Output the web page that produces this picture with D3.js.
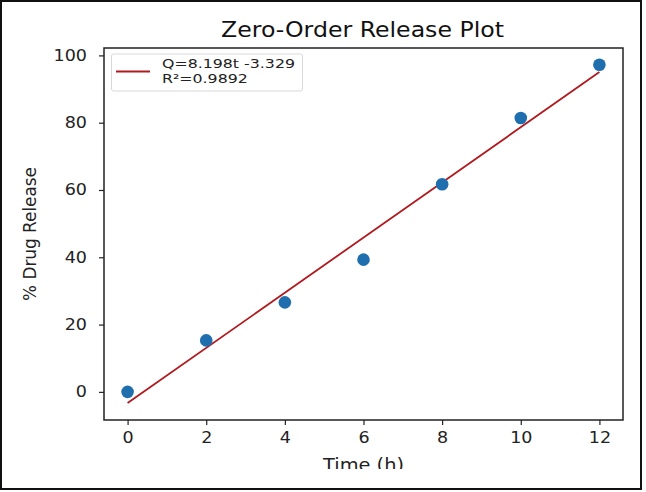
<!DOCTYPE html>
<html>
<head>
<meta charset="utf-8">
<script src="https://cdn.jsdelivr.net/npm/d3@7"></script>
<style>
  html, body { margin: 0; padding: 0; background: #fff; }
  svg { display: block; font-family: "DejaVu Sans", sans-serif; }
</style>
</head>
<body>
<div id="chart"></div>
<script>
// ---------- Data ----------
const timeH = [0, 2, 4, 6, 8, 10, 12];
const drugRelease = [0, 15.3, 26.6, 39.3, 61.7, 81.4, 97.2];

// fitted line end points (from legend: Q = 8.198t - 3.329)
const fitT = [0, 12];
const fitQ = [-3.329, 95.047];

const xTicks = [0, 2, 4, 6, 8, 10, 12];
const yTicks = [0, 20, 40, 60, 80, 100];
const legendLines = ["Q=8.198t -3.329", "R\u00b2=0.9892"];

// ---------- Layout ----------
const W = 646, H = 492;
const M = { top: 48, right: 23, bottom: 72, left: 104 };
const LINE_RED = "#b01a1e";

// the source picture is a bit wider than tall, so text looks stretched
function stretch(sel, sx) {
  sel.each(function () {
    const L = this.getComputedTextLength();
    d3.select(this).attr("textLength", L * sx).attr("lengthAdjust", "spacingAndGlyphs");
  });
}
function fitWidth(sel, w) {
  sel.attr("textLength", w).attr("lengthAdjust", "spacingAndGlyphs");
}

const svg = d3.select("#chart").append("svg")
  .attr("width", W).attr("height", H);

// outer frame
svg.append("rect")
  .attr("x", 1).attr("y", 1)
  .attr("width", 640).attr("height", 488)
  .attr("fill", "#fff")
  .attr("stroke", "#111")
  .attr("stroke-width", 2);

const x = d3.scaleLinear().domain([-0.6, 12.6]).range([M.left, W - M.right]);
const y = d3.scaleLinear().domain([-8.36, 102.2]).range([H - M.bottom, M.top]);

// the source image is cut off just under the x label
svg.append("clipPath").attr("id", "cut")
  .append("rect").attr("x", 0).attr("y", 0).attr("width", W).attr("height", 469);

const g = svg.append("g").attr("clip-path", "url(#cut)");

// axes
const xAxis = g.append("g")
  .attr("transform", `translate(0,${H - M.bottom})`)
  .call(d3.axisBottom(x).tickValues(xTicks).tickSize(5).tickPadding(7).tickFormat(d3.format("d")));

const yAxis = g.append("g")
  .attr("transform", `translate(${M.left},0)`)
  .call(d3.axisLeft(y).tickValues(yTicks).tickSize(5).tickPadding(12).tickFormat(d3.format("d")));

[xAxis, yAxis].forEach(a => {
  a.select(".domain").remove();
  a.selectAll("line").attr("stroke", "#222").attr("stroke-width", 1.2);
  a.selectAll("text").attr("fill", "#222").style("font-size", "15.5px")
    .style("font-family", "'DejaVu Sans', sans-serif");
  stretch(a.selectAll("text"), 1.13);
});

// plot box
g.append("rect")
  .attr("x", M.left).attr("y", M.top)
  .attr("width", W - M.right - M.left).attr("height", H - M.bottom - M.top)
  .attr("fill", "none").attr("stroke", "#222").attr("stroke-width", 1.5);

// fitted line
const line = d3.line().x(d => x(d[0])).y(d => y(d[1]));
g.append("path")
  .datum(fitT.map((t, i) => [t, fitQ[i]]))
  .attr("d", line)
  .attr("fill", "none")
  .attr("stroke", LINE_RED)
  .attr("stroke-width", 1.8);

// scatter points
g.append("g").selectAll("circle")
  .data(timeH.map((t, i) => ({ t, q: drugRelease[i] })))
  .join("circle")
    .attr("cx", d => x(d.t))
    .attr("cy", d => y(d.q))
    .attr("r", 6.3)
    .attr("fill", "#1f6fae");

// title
g.append("text")
  .attr("x", 362.5)
  .attr("y", 36.7)
  .attr("text-anchor", "middle")
  .attr("fill", "#111")
  .style("font-size", "20.5px")
  .text("Zero-Order Release Plot")
  .call(fitWidth, 283);

// axis labels
g.append("text")
  .attr("x", 363.5)
  .attr("y", 470.5)
  .attr("text-anchor", "middle")
  .attr("fill", "#222")
  .style("font-size", "17px")
  .text("Time (h)")
  .call(fitWidth, 81);

g.append("text")
  .attr("transform", `translate(35.5,${(M.top + H - M.bottom) / 2}) rotate(-90)`)
  .attr("text-anchor", "middle")
  .attr("fill", "#222")
  .style("font-size", "17px")
  .text("% Drug Release")
  .call(fitWidth, 134);

// legend
const lg = g.append("g");
lg.append("rect")
  .attr("x", 111.5).attr("y", 54)
  .attr("width", 191).attr("height", 37)
  .attr("rx", 2)
  .attr("fill", "#fff")
  .attr("stroke", "#d8d8d8");
lg.append("line")
  .attr("x1", 116).attr("x2", 150)
  .attr("y1", 71.5).attr("y2", 71.5)
  .attr("stroke", LINE_RED).attr("stroke-width", 1.8);
const legText = lg.selectAll("text.leg")
  .data(legendLines)
  .join("text")
    .attr("class", "leg")
    .attr("x", 162)
    .attr("y", (d, i) => 68.3 + i * 15)
    .attr("fill", "#222")
    .style("font-size", "13px")
    .text(d => d);
stretch(legText, 133 / legText.node().getComputedTextLength());
</script>
</body>
</html>
